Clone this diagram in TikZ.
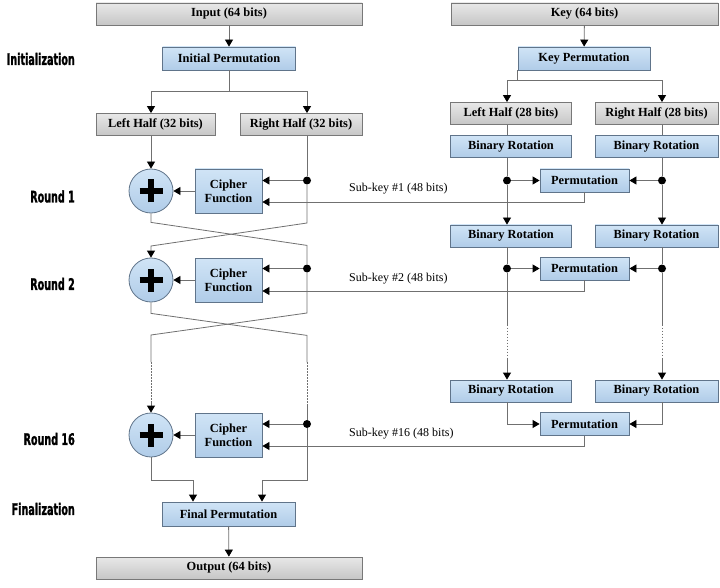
\documentclass[tikz,border=0pt]{standalone}
\usepackage{fontspec}
\setmainfont{Liberation Serif}
\newfontfamily\lblfont[FakeStretch=0.6,FakeBold=1.2]{DejaVu Sans}
\usetikzlibrary{arrows.meta,calc}

\definecolor{linegray}{RGB}{112,112,112}
\definecolor{grayedge}{RGB}{120,120,120}
\definecolor{graytop}{RGB}{232,232,232}
\definecolor{graybot}{RGB}{198,198,198}
\definecolor{blueedge}{RGB}{96,116,138}
\definecolor{bluetop}{RGB}{208,228,246}
\definecolor{bluebot}{RGB}{176,204,232}

\begin{document}
\begin{tikzpicture}[x=1pt,y=-1pt,
	line/.style={draw=linegray, line width=0.8pt},
	arr/.style={line, -{Triangle[length=7pt,width=8pt,color=black]}},
	gap/.style={line, dash pattern=on 1.5pt off 1.5pt},
	graybox/.style={draw=grayedge, line width=0.8pt, top color=graytop, bottom color=graybot,
		inner sep=0pt, minimum height=22pt, font=\fontsize{12.4}{14}\selectfont\bfseries},
	bluebox/.style={graybox, draw=blueedge, top color=bluetop, bottom color=bluebot},
	xor/.style={circle, draw=blueedge, line width=0.8pt, top color=bluetop, bottom color=bluebot,
		minimum size=44pt, inner sep=0pt, path picture={
		\draw[black, line width=6.5pt] ([xshift=-11.5pt]path picture bounding box.center) -- ([xshift=11.5pt]path picture bounding box.center);
		\draw[black, line width=6.5pt] ([yshift=-11.5pt]path picture bounding box.center) -- ([yshift=11.5pt]path picture bounding box.center);}},
	dot/.style={circle, fill=black, inner sep=0pt, minimum size=8pt},
	rnd/.style={anchor=east, inner sep=0pt, font=\lblfont\bfseries\fontsize{16}{18}\selectfont},
	sublbl/.style={anchor=base west, inner sep=0pt, font=\fontsize{12}{14}\selectfont}
	]
	\useasboundingbox (0,0) rectangle (720,588);
	
	% columns
	\coordinate (L) at (151,0);
	\coordinate (R) at (307,0);
	\coordinate (KL) at (507,0);
	\coordinate (KR) at (662,0);
	
	% stage labels
	\node[rnd] (lblinit) at (75,59) {Initialization};
	\node[rnd] (lblr1) at (75,196.5) {Round 1};
	\node[rnd] (lblr2) at (75,284) {Round 2};
	\node[rnd] (lblr16) at (75,439) {Round 16};
	\node[rnd] (lblfin) at (75,509) {Finalization};
	
	% input side
	\node[graybox, minimum width=266pt] (input) at (229,14) {Input (64 bits)};
	\node[bluebox, minimum width=133pt, minimum height=23pt] (initperm) at (229,58.5) {Initial Permutation};
	\node[graybox, minimum width=119pt] (lhalf) at (155.5,124.5) {Left Half (32 bits)};
	\node[graybox, minimum width=122pt] (rhalf) at (301,124.5) {Right Half (32 bits)};
	
	% key side
	\node[graybox, minimum width=267pt] (key) at (584.5,14) {Key (64 bits)};
	\node[bluebox, minimum width=132pt, minimum height=23pt] (keyperm) at (584,58.5) {Key Permutation};
	\node[graybox, minimum width=121pt] (klhalf) at (511,113.5) {Left Half (28 bits)};
	\node[graybox, minimum width=123pt] (krhalf) at (656.5,113.5) {Right Half (28 bits)};
	
	\node[bluebox, minimum width=121pt] (br1l) at (511,146.5) {Binary Rotation};
	\node[bluebox, minimum width=123pt] (br1r) at (656.5,146.5) {Binary Rotation};
	\node[bluebox, minimum width=89pt, minimum height=23pt] (kperm1) at (584.5,180.5) {Permutation};
	
	\node[bluebox, minimum width=121pt] (br2l) at (511,236) {Binary Rotation};
	\node[bluebox, minimum width=123pt] (br2r) at (656.5,236) {Binary Rotation};
	\node[bluebox, minimum width=89pt, minimum height=23pt] (kperm2) at (584.5,268.5) {Permutation};
	
	\node[bluebox, minimum width=121pt] (br3l) at (511,391) {Binary Rotation};
	\node[bluebox, minimum width=123pt] (br3r) at (656.5,391) {Binary Rotation};
	\node[bluebox, minimum width=89pt, minimum height=23pt] (kperm3) at (584.5,424) {Permutation};
	
	% rounds
	\node[xor] (xor1) at (151,191) {};
	\node[bluebox, minimum width=67pt, minimum height=44pt, align=center] (cf1) at (228.5,191) {Cipher\\Function};
	\node[xor] (xor2) at (151,280) {};
	\node[bluebox, minimum width=67pt, minimum height=44pt, align=center] (cf2) at (228.5,280) {Cipher\\Function};
	\node[xor] (xor3) at (151,435) {};
	\node[bluebox, minimum width=67pt, minimum height=44pt, align=center] (cf3) at (228.5,435) {Cipher\\Function};
	
	% final
	\node[bluebox, minimum width=133pt, minimum height=24pt] (finperm) at (228.5,514) {Final Permutation};
	\node[graybox, minimum width=266pt] (output) at (229,568) {Output (64 bits)};
	
	% dots
	\node[dot] (rdot1) at (kperm1 -| R) {};
	\node[dot] (rdot2) at (kperm2 -| R) {};
	\node[dot] (rdot3) at (kperm3 -| R) {};
	\node[dot] (kldot1) at (kperm1 -| KL) {};
	\node[dot] (krdot1) at (kperm1 -| KR) {};
	\node[dot] (kldot2) at (kperm2 -| KL) {};
	\node[dot] (krdot2) at (kperm2 -| KR) {};
	
	% sub-key labels
	\node[sublbl] (sk1lbl) at (349,192) {Sub-key \#1 (48 bits)};
	\node[sublbl] (sk2lbl) at (349,281) {Sub-key \#2 (48 bits)};
	\node[sublbl] (sk16lbl) at (349,436) {Sub-key \#16 (48 bits)};
	
	% input to halves
	\draw[arr] (input) -- (initperm);
	\draw[line] (initperm.south) -- ++(0,21) coordinate (isplit);
	\draw[line] (isplit -| L) -- (isplit -| R);
	\draw[arr] (isplit -| L) -- (lhalf.north -| L);
	\draw[arr] (isplit -| R) -- (rhalf.north -| R);
	
	% key to halves
	\draw[arr] (key) -- (keyperm);
	\draw[line] (keyperm.south west) -- ++(0,10) coordinate (ksplit);
	\draw[line] (ksplit -| KL) -- (ksplit -| KR);
	\draw[arr] (ksplit -| KL) -- (klhalf.north -| KL);
	\draw[arr] (ksplit -| KR) -- (krhalf.north -| KR);
	\draw[line] (klhalf.south -| KL) -- (br1l.north -| KL);
	\draw[line] (krhalf.south -| KR) -- (br1r.north -| KR);
	
	% round 1
	\draw[arr] (lhalf.south -| L) -- (xor1.north);
	\draw[line] (rhalf.south -| R) -- (rdot1);
	\draw[arr] (rdot1) -- (rdot1 -| cf1.east);
	\draw[arr] (cf1) -- (xor1);
	\draw[line] (br1l.south -| KL) -- (kldot1);
	\draw[line] (br1r.south -| KR) -- (krdot1);
	\draw[arr] (kldot1) -- (kperm1.west);
	\draw[arr] (krdot1) -- (kperm1.east);
	\draw[arr] (kperm1.south) |- ($(cf1.east)+(0,11)$);
	\draw[arr] (kldot1) -- (br2l.north -| KL);
	\draw[arr] (krdot1) -- (br2r.north -| KR);
	
	% swap 1
	\draw[line] (xor1.south) -- ++(0,9) -- ++(156,23) -- (rdot2);
	\draw[arr] (rdot1) -- ++(0,42.5) -- ++(-156,23) -- (xor2.north);
	
	% round 2
	\draw[arr] (rdot2) -- (rdot2 -| cf2.east);
	\draw[arr] (cf2) -- (xor2);
	\draw[line] (br2l.south -| KL) -- (kldot2);
	\draw[line] (br2r.south -| KR) -- (krdot2);
	\draw[arr] (kldot2) -- (kperm2.west);
	\draw[arr] (krdot2) -- (kperm2.east);
	\draw[arr] (kperm2.south) |- ($(cf2.east)+(0,11)$);
	
	% swap 2 and skipped rounds
	\draw[line] (xor2.south) -- ++(0,11) -- ++(156,22) -- ++(0,27) coordinate (r2a);
	\draw[gap] (r2a) -- ++(0,42) coordinate (r2b);
	\draw[line] (r2b) -- (rdot3);
	\draw[line] (rdot2) -- ++(0,44.5) -- ++(-156,22) -- ++(0,27) coordinate (l2a);
	\draw[gap] (l2a) -- ++(0,40) coordinate (l2b);
	\draw[arr] (l2b) -- (xor3.north);
	\draw[line] (kldot2) -- ++(0,56) coordinate (kl2a);
	\draw[gap] (kl2a) -- ++(0,33) coordinate (kl2b);
	\draw[arr] (kl2b) -- (br3l.north -| KL);
	\draw[line] (krdot2) -- ++(0,56) coordinate (kr2a);
	\draw[gap] (kr2a) -- ++(0,33) coordinate (kr2b);
	\draw[arr] (kr2b) -- (br3r.north -| KR);
	
	% round 16
	\draw[arr] (rdot3) -- (rdot3 -| cf3.east);
	\draw[arr] (cf3) -- (xor3);
	\draw[arr] (br3l.south -| KL) |- (kperm3.west);
	\draw[arr] (br3r.south -| KR) |- (kperm3.east);
	\draw[arr] (kperm3.south) |- ($(cf3.east)+(0,11)$);
	
	% finalization
	\draw[arr] (xor3.south) -- ++(0,23) -| ([xshift=-35.5pt]finperm.north);
	\draw[arr] (rdot3) -- ++(0,56) -| ([xshift=33.5pt]finperm.north);
	\draw[arr] (finperm) -- (output);
	
\end{tikzpicture}
\end{document}
